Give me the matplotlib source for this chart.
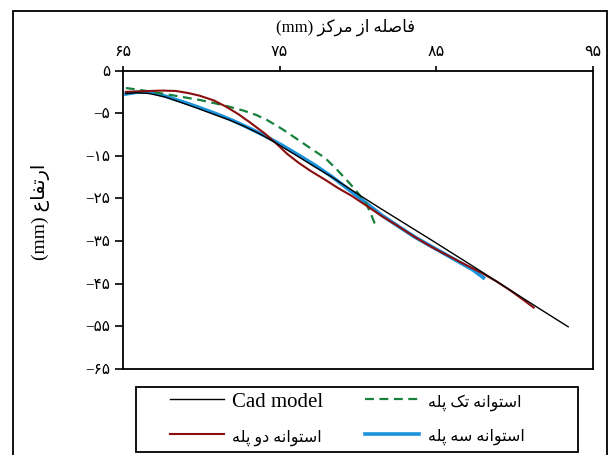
import matplotlib
matplotlib.use('Agg')
import matplotlib.pyplot as plt
from matplotlib.patches import Rectangle

# Latin text in a Times-like face, Persian falls back to DejaVu Sans
plt.rcParams['font.family'] = ['Liberation Serif', 'DejaVu Sans']

# Arabic presentation forms: isolated, final, initial, medial
FORMS = {
    'ا': ('\uFE8D', '\uFE8E', None, None),
    'د': ('\uFEA9', '\uFEAA', None, None),
    'ر': ('\uFEAD', '\uFEAE', None, None),
    'ز': ('\uFEAF', '\uFEB0', None, None),
    'و': ('\uFEED', '\uFEEE', None, None),
    'ت': ('\uFE95', '\uFE96', '\uFE97', '\uFE98'),
    'س': ('\uFEB1', '\uFEB2', '\uFEB3', '\uFEB4'),
    'ص': ('\uFEB9', '\uFEBA', '\uFEBB', '\uFEBC'),
    'ع': ('\uFEC9', '\uFECA', '\uFECB', '\uFECC'),
    'ف': ('\uFED1', '\uFED2', '\uFED3', '\uFED4'),
    'ل': ('\uFEDD', '\uFEDE', '\uFEDF', '\uFEE0'),
    'م': ('\uFEE1', '\uFEE2', '\uFEE3', '\uFEE4'),
    'ن': ('\uFEE5', '\uFEE6', '\uFEE7', '\uFEE8'),
    'ه': ('\uFEE9', '\uFEEA', '\uFEEB', '\uFEEC'),
    'ک': ('\uFB8E', '\uFB8F', '\uFB90', '\uFB91'),
    'پ': ('\uFB56', '\uFB57', '\uFB58', '\uFB59'),
}


def fa(text):
    """shape a Persian string and put it in visual (left to right) order"""
    out = []
    for i, ch in enumerate(text):
        if ch not in FORMS:
            out.append(ch)
            continue
        prev = text[i - 1] if i > 0 else ''
        nxt = text[i + 1] if i + 1 < len(text) else ''
        iso, fin, ini, med = FORMS[ch]
        join_prev = prev in FORMS and FORMS[prev][2] is not None
        join_next = ini is not None and nxt in FORMS
        if join_prev and join_next:
            out.append(med)
        elif join_prev:
            out.append(fin)
        elif join_next:
            out.append(ini)
        else:
            out.append(iso)
    return ''.join(reversed(out))


# data
cad_x = [65.2, 65.9, 66.7, 67.7, 68.8, 69.8, 70.9, 71.8, 72.7, 73.6, 74.5, 75.3, 76.2,
         77.2, 78.3, 80.0, 81.5, 84.7, 87.5, 91.2, 93.4]
cad_y = [-0.4, -0.2, -0.4, -1.2, -2.6, -3.9, -5.4, -6.6, -8.0, -9.6, -11.4, -13.2, -15.2,
         -17.5, -19.9, -24.0, -27.5, -34.8, -41.3, -50.0, -55.1]

one_x = [65.2, 66.0, 66.7, 67.7, 68.8, 69.9, 70.9, 71.8, 72.7, 73.5, 74.2, 75.2, 76.2,
         77.0, 77.9, 78.7, 79.5, 80.1, 80.5, 80.8, 81.1]
one_y = [0.9, 0.5, 0.1, -0.5, -1.2, -1.9, -2.7, -3.5, -4.4, -5.4, -6.6, -8.8, -11.3,
         -13.3, -15.5, -18.4, -21.6, -24.2, -26.1, -28.4, -31.2]

two_x = [65.2, 66.0, 66.7, 67.5, 68.4, 69.2, 69.9, 70.8, 71.6, 72.4, 73.2, 74.1, 74.9,
         75.5, 76.2, 77.0, 77.9, 78.7, 79.6, 80.5, 81.5, 82.6, 83.6, 84.7, 86.3, 87.9,
         88.8, 89.6, 90.4, 91.2]
two_y = [0.0, 0.1, 0.2, 0.3, 0.2, -0.3, -0.9, -2.0, -3.5, -5.3, -7.4, -9.9, -12.5,
         -14.6, -16.6, -18.6, -20.6, -22.5, -24.4, -26.6, -29.1, -31.6, -34.0, -36.4,
         -39.5, -42.5, -44.4, -46.3, -48.4, -50.6]

three_x = [65.2, 65.9, 66.7, 67.7, 68.8, 69.9, 71.0, 72.0, 73.0, 74.0, 75.1, 76.2, 77.3,
           78.3, 79.4, 80.5, 81.5, 82.6, 83.6, 84.7, 86.0, 87.3, 88.0]
three_y = [-0.5, -0.1, 0.0, -1.0, -2.3, -3.7, -5.2, -6.7, -8.4, -10.2, -12.4, -14.8, -17.3,
           -19.8, -22.9, -26.0, -28.9, -31.6, -34.0, -36.3, -39.0, -41.7, -43.6]

x_ticks = [65, 75, 85, 95]
x_tick_labels = ['۶۵', '۷۵', '۸۵', '۹۵']
y_ticks = [5, -5, -15, -25, -35, -45, -55, -65]
y_tick_labels = ['۵', '−۵', '−۱۵', '−۲۵', '−۳۵', '−۴۵', '−۵۵', '−۶۵']

x_label = '(mm) ' + fa('فاصله از مرکز')
y_label = '(mm) ' + fa('ارتفاع')
names = ['Cad model', fa('استوانه تک پله'), fa('استوانه دو پله'), fa('استوانه سه پله')]

fig = plt.figure(figsize=(6.09, 4.55), dpi=100)
ax = fig.add_axes([0.2015, 0.189, 0.7727, 0.656])

l_cad, = ax.plot(cad_x, cad_y, color='black', lw=1.0, zorder=5)
l_one, = ax.plot(one_x, one_y, color='#17803a', lw=1.6, dashes=(4, 2.5), zorder=4)
l_two, = ax.plot(two_x, two_y, color='#8b0e0e', lw=1.5, zorder=4)
l_three, = ax.plot(three_x, three_y, color='#1a93dc', lw=2.6, zorder=3)

ax.set_xlim(65, 95)
ax.set_ylim(-65, 5)
ax.xaxis.tick_top()
ax.set_xticks(x_ticks)
ax.set_xticklabels(x_tick_labels, fontsize=11.5)
ax.set_yticks(y_ticks)
ax.set_yticklabels(y_tick_labels, fontsize=11)
ax.tick_params(axis='y', direction='out', length=6, width=1.2, pad=3)
ax.tick_params(axis='x', direction='out', length=3.5, width=1.2, pad=4)
for s in ax.spines.values():
    s.set_linewidth(1.3)

fig.text(346 / 609, 1 - 27 / 455, x_label, ha='center', va='center', fontsize=12)
fig.text(40 / 609, 1 - 212 / 455, y_label, ha='center', va='center', fontsize=14, rotation=90)

# two columns fill top-down, so order is col1 (cad, two), col2 (one, three)
leg = fig.legend([l_cad, l_two, l_one, l_three],
                 [names[0], names[2], names[1], names[3]],
                 ncol=2, loc='center left', bbox_to_anchor=(170 / 609, 1 - 419 / 455),
                 frameon=False, fontsize=15, borderpad=0, borderaxespad=0,
                 handlelength=2.6, handletextpad=0.4, columnspacing=2.0,
                 labelspacing=0.75)
for t in leg.get_texts()[1:]:
    t.set_fontsize(11.5)

# legend box and outer frame
fig.add_artist(Rectangle((136 / 609, 1 - 452 / 455), (578 - 136) / 609, (452 - 387) / 455,
                         transform=fig.transFigure, fill=False, lw=1.3, ec='black'))
fig.add_artist(Rectangle((13 / 609, -0.05), (606.7 - 13) / 609, 0.976 + 0.05,
                         transform=fig.transFigure, fill=False, lw=1.3, ec='black'))

fig.savefig('out.png', dpi=100)
